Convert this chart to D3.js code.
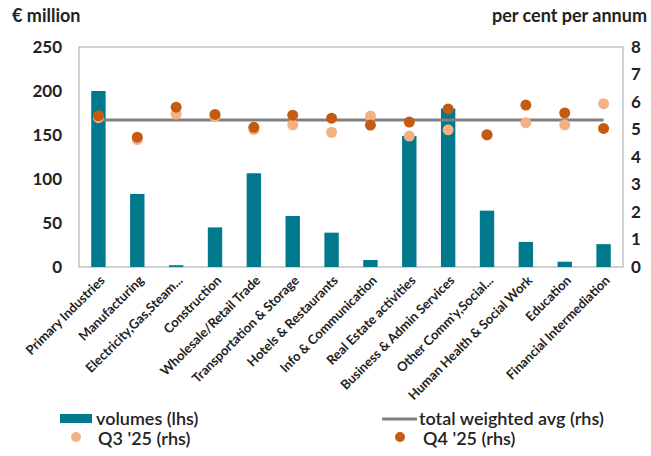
<!DOCTYPE html>
<html><head><meta charset="utf-8">
<script src="https://cdn.jsdelivr.net/npm/d3@7"></script>
<style>
body{margin:0;background:#fff;}
svg{display:block;}
text{font-family:Lato, "Open Sans", sans-serif;}
</style></head>
<body>
<svg id="chart" width="651" height="456"></svg>
<script>
const categories = ["Primary Industries","Manufacturing","Electricity,Gas,Steam...","Construction","Wholesale/Retail Trade","Transportation & Storage","Hotels & Restaurants","Info & Communication","Real Estate activities","Business & Admin Services","Other Comm'y,Social...","Human Health & Social Work","Education","Financial Intermediation"];
const volumes = [200, 83, 2, 45, 106.5, 58, 39, 8, 149, 180, 64, 28.5, 6, 26];
const q3 = [5.43, 4.63, 5.56, 5.48, 5.00, 5.17, 4.90, 5.49, 4.76, 4.99, 4.80, 5.25, 5.17, 5.94];
const q4 = [5.50, 4.72, 5.81, 5.55, 5.08, 5.52, 5.41, 5.16, 5.27, 5.75, 4.81, 5.89, 5.60, 5.04];
const avgRate = [5.35];
const leftTicks = [0, 50, 100, 150, 200, 250];
const rightTicks = [0, 1, 2, 3, 4, 5, 6, 7, 8];

const svg = d3.select("#chart");
const L = 79, R = 623, T = 47, B = 267;
const x = d3.scaleBand().domain(categories).range([L, R]).padding(0);
const yL = d3.scaleLinear().domain([0, 250]).range([B, T]);
const yR = d3.scaleLinear().domain([0, 8]).range([B, T]);
const barW = x.bandwidth() * 0.37;
const cx = d => x(d) + x.bandwidth() / 2;

const teal = "#00798C", light = "#F4B183", dark = "#C55A11", grey = "#808080";

// frame
svg.append("rect").attr("x", L).attr("y", T).attr("width", R - L).attr("height", B - T)
  .attr("fill", "none").attr("stroke", "#A6A6A6").attr("stroke-width", 1);

// bars
svg.append("g").selectAll("rect").data(categories).join("rect")
  .attr("x", d => cx(d) - barW / 2)
  .attr("width", barW)
  .attr("y", (d, i) => yL(volumes[i]))
  .attr("height", (d, i) => B - yL(volumes[i]))
  .attr("fill", teal);

// avg line
svg.append("line")
  .attr("x1", cx(categories[0])).attr("x2", cx(categories[categories.length - 1]))
  .attr("y1", yR(avgRate[0])).attr("y2", yR(avgRate[0]))
  .attr("stroke", grey).attr("stroke-width", 3);

// dots
svg.append("g").selectAll("circle").data(categories).join("circle")
  .attr("cx", d => cx(d)).attr("cy", (d, i) => yR(q3[i])).attr("r", 5.5).attr("fill", light);
svg.append("g").selectAll("circle").data(categories).join("circle")
  .attr("cx", d => cx(d)).attr("cy", (d, i) => yR(q4[i])).attr("r", 5.5).attr("fill", dark);

// axes
const axL = svg.append("g").attr("transform", `translate(${L},0)`)
  .call(d3.axisLeft(yL).tickValues(leftTicks).tickSize(0).tickPadding(17));
const axR = svg.append("g").attr("transform", `translate(${R},0)`)
  .call(d3.axisRight(yR).tickValues(rightTicks).tickSize(0).tickPadding(8));
[axL, axR].forEach(a => {
  a.select(".domain").remove();
  a.selectAll("text").attr("font-family", "Lato, sans-serif").attr("font-size", 17)
    .attr("font-weight", "bold").attr("fill", "#222");
});

// category labels
svg.append("g").selectAll("text").data(categories).join("text")
  .attr("transform", d => `translate(${cx(d) + 4},${B + 11}) rotate(-45)`)
  .attr("text-anchor", "end").attr("dy", "0.35em")
  .attr("font-size", 13).attr("font-weight", "bold").attr("fill", "#222")
  .text(d => d);

// axis titles
svg.append("text").attr("x", 12).attr("y", 22).attr("font-size", 18).attr("font-weight", "bold")
  .attr("fill", "#222").text("€ million");
svg.append("text").attr("x", 647).attr("y", 22).attr("text-anchor", "end").attr("font-size", 18)
  .attr("font-weight", "bold").attr("fill", "#222").text("per cent per annum");

// legend
const lg = svg.append("g").attr("font-size", 18).attr("font-weight", 600).attr("fill", "#222");
lg.append("rect").attr("x", 60).attr("y", 414).attr("width", 32).attr("height", 9).attr("fill", teal);
lg.append("text").attr("x", 96).attr("y", 425).text("volumes (lhs)");
lg.append("line").attr("x1", 382).attr("x2", 417).attr("y1", 419).attr("y2", 419)
  .attr("stroke", grey).attr("stroke-width", 3);
lg.append("text").attr("x", 419).attr("y", 425).text("total weighted avg (rhs)");
lg.append("circle").attr("cx", 76).attr("cy", 437).attr("r", 5).attr("fill", light);
lg.append("text").attr("x", 98).attr("y", 445).text("Q3 '25 (rhs)");
lg.append("circle").attr("cx", 400).attr("cy", 437).attr("r", 5).attr("fill", dark);
lg.append("text").attr("x", 423).attr("y", 445).text("Q4 '25 (rhs)");
</script>
</body></html>
